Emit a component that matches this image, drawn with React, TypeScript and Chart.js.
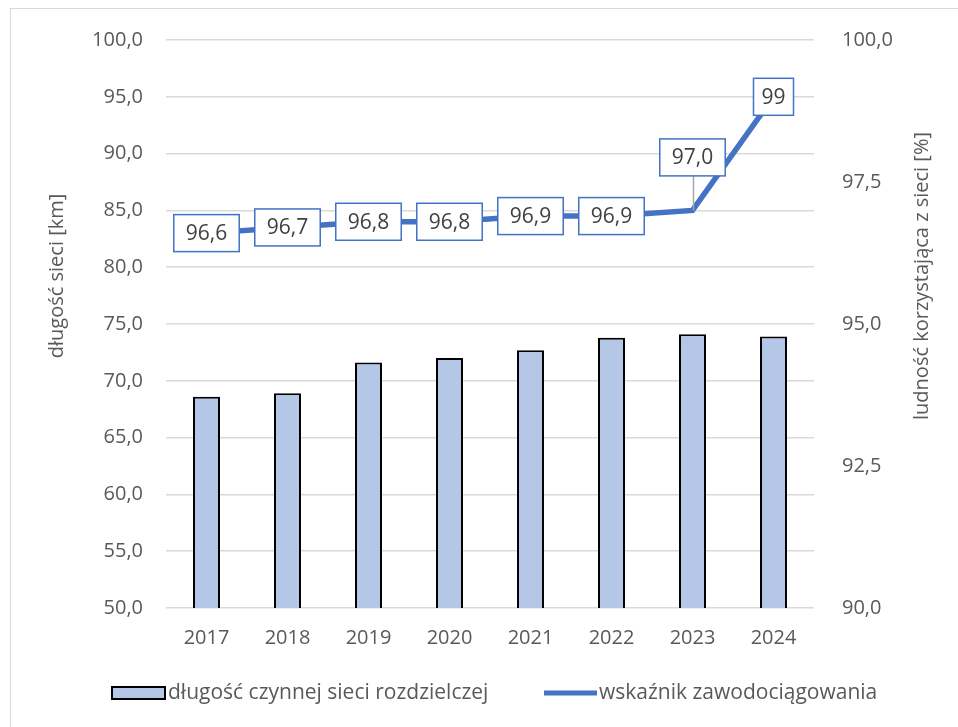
import React, { useEffect, useRef } from "react";
import { Chart, registerables } from "chart.js";

Chart.register(...registerables);

const categories = ["2017", "2018", "2019", "2020", "2021", "2022", "2023", "2024"];
const networkLength = [68.6, 68.9, 71.6, 72.0, 72.7, 73.8, 74.1, 73.9];
const supplyRate = [96.6, 96.7, 96.8, 96.8, 96.9, 96.9, 97.0, 99.0];
const supplyRateLabels = ["96,6", "96,7", "96,8", "96,8", "96,9", "96,9", "97,0", "99"];
const barSeriesName = "długość czynnej sieci rozdzielczej";
const lineSeriesName = "wskaźnik zawodociągowania";
const leftTitle = "długość sieci [km]";
const rightTitle = "ludność korzystająca z sieci [%]";

const FONT = "'Open Sans', 'Liberation Sans', sans-serif";
const TEXT = "#595959";
const BLUE = "#4472C4";
const BAR_FILL = "#B4C7E7";

const fmt = (v: number) => v.toFixed(1).replace(".", ",");

const decorPlugin = {
  id: "decor",
  beforeDraw(chart: any) {
    const ctx = chart.ctx;
    ctx.save();
    ctx.strokeStyle = "#D9D9D9";
    ctx.lineWidth = 1;
    ctx.strokeRect(10.5, 8.5, 1000, 1000);
    ctx.restore();
  },
  afterDatasetsDraw(chart: any) {
    const ctx = chart.ctx;
    const midY = 276;
    // axis titles
    ctx.save();
    ctx.fillStyle = TEXT;
    ctx.font = `20px ${FONT}`;
    ctx.textAlign = "center";
    ctx.textBaseline = "middle";
    ctx.translate(57, midY);
    ctx.rotate(-Math.PI / 2);
    ctx.fillText(leftTitle, 0, 0);
    ctx.restore();
    ctx.save();
    ctx.fillStyle = TEXT;
    ctx.font = `20px ${FONT}`;
    ctx.textAlign = "center";
    ctx.textBaseline = "middle";
    ctx.translate(922, midY);
    ctx.rotate(-Math.PI / 2);
    ctx.fillText(rightTitle, 0, 0);
    ctx.restore();

    // data labels for the line
    const meta = chart.getDatasetMeta(0);
    const offsets = [0, 0, 0, 0, 0, 0, -53, 0];
    ctx.save();
    ctx.font = `21px ${FONT}`;
    ctx.textAlign = "center";
    ctx.textBaseline = "middle";
    meta.data.forEach((pt: any, i: number) => {
      const label = supplyRateLabels[i];
      const tw = ctx.measureText(label).width;
      const w = tw + (label.length > 2 ? 24 : 16);
      const h = 37;
      const cx = pt.x;
      const cy = pt.y + offsets[i];
      if (offsets[i] !== 0) {
        ctx.strokeStyle = "#A6A6A6";
        ctx.lineWidth = 1.5;
        ctx.beginPath();
        ctx.moveTo(Math.round(cx) + 0.5, cy + h / 2);
        ctx.lineTo(Math.round(cx) + 0.5, pt.y);
        ctx.stroke();
      }
      ctx.fillStyle = "#FFFFFF";
      ctx.fillRect(cx - w / 2, cy - h / 2, w, h);
      ctx.strokeStyle = BLUE;
      ctx.lineWidth = 1.5;
      ctx.strokeRect(cx - w / 2, cy - h / 2, w, h);
      ctx.fillStyle = "#404040";
      ctx.fillText(label, cx, cy + 1);
    });
    ctx.restore();

    // legend
    ctx.save();
    const ly = 693;
    ctx.fillStyle = BAR_FILL;
    ctx.fillRect(112, 687, 53, 12);
    ctx.strokeStyle = "#000000";
    ctx.lineWidth = 2;
    ctx.strokeRect(112, 687, 53, 12);
    ctx.strokeStyle = BLUE;
    ctx.lineWidth = 5;
    ctx.beginPath();
    ctx.moveTo(544, ly);
    ctx.lineTo(597, ly);
    ctx.stroke();
    ctx.fillStyle = TEXT;
    ctx.font = `21px ${FONT}`;
    ctx.textAlign = "left";
    ctx.textBaseline = "middle";
    ctx.fillText(barSeriesName, 168, ly);
    ctx.fillText(lineSeriesName, 599, ly);
    ctx.restore();
  },
};

export default function App() {
  const ref = useRef<HTMLCanvasElement>(null);
  useEffect(() => {
    if (!ref.current) return;
    const chart = new Chart(ref.current, {
      type: "bar",
      data: {
        labels: categories,
        datasets: [
          {
            type: "line",
            label: lineSeriesName,
            data: supplyRate,
            yAxisID: "y1",
            borderColor: BLUE,
            borderWidth: 5.5,
            pointRadius: 0,
            tension: 0,
            order: 0,
          } as any,
          {
            type: "bar",
            label: barSeriesName,
            data: networkLength,
            yAxisID: "y",
            backgroundColor: BAR_FILL,
            borderColor: "#000000",
            borderWidth: 2,
            borderSkipped: false,
            categoryPercentage: 1,
            barPercentage: 0.333,
            order: 1,
          },
        ],
      },
      options: {
        animation: false,
        responsive: false,
        maintainAspectRatio: false,
        layout: { padding: { top: 38, left: 0, right: 0, bottom: 0 } },
        plugins: {
          legend: { display: false },
          tooltip: { enabled: false },
          title: { display: false },
        },
        scales: {
          x: {
            grid: { display: false, drawTicks: false },
            border: { display: false },
            ticks: { color: TEXT, font: { family: FONT, size: 20 }, padding: 18 },
            afterFit(scale: any) {
              scale.height = 119;
            },
          },
          y: {
            position: "left",
            min: 50,
            max: 100,
            grid: { color: "#D9D9D9", lineWidth: 1.5, drawTicks: false },
            border: { display: false },
            ticks: {
              stepSize: 5,
              color: TEXT,
              font: { family: FONT, size: 20 },
              padding: 23,
              callback: (v: any) => fmt(Number(v)),
            },
            afterFit(scale: any) {
              scale.width = 166;
            },
          },
          y1: {
            position: "right",
            min: 90,
            max: 100,
            grid: { display: false, drawTicks: false },
            border: { display: false },
            ticks: {
              stepSize: 2.5,
              color: TEXT,
              font: { family: FONT, size: 20 },
              padding: 28,
              callback: (v: any) => fmt(Number(v)),
            },
            afterFit(scale: any) {
              scale.width = 144;
            },
          },
        },
      } as any,
      plugins: [decorPlugin],
    });
    return () => chart.destroy();
  }, []);
  return (
    <div style={{ position: "absolute", left: 0, top: 0, width: 958, height: 727, background: "#fff" }}>
      <canvas ref={ref} width={958} height={727} style={{ width: 958, height: 727, display: "block" }} />
    </div>
  );
}
